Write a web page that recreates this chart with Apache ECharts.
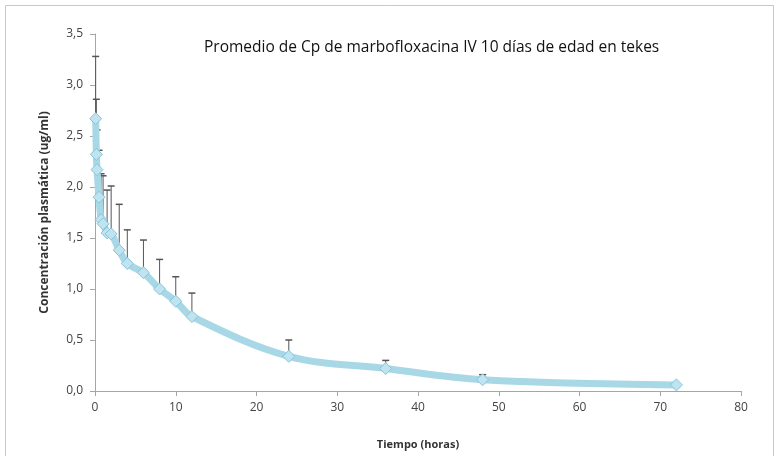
<!DOCTYPE html>
<html>
<head>
<meta charset="utf-8">
<script src="https://cdn.jsdelivr.net/npm/echarts@6/dist/echarts.min.js"></script>
<style>
    body { margin: 0; background: #fff; }
    #chart { width: 779px; height: 456px; }
</style>
</head>
<body>
<div id="chart"></div>
<script>
    // tiempos de muestreo (h), media y extremo superior de la barra de error
    const tiempo = [0.083, 0.167, 0.25, 0.5, 0.75, 1, 1.5, 2, 3, 4, 6, 8, 10, 12, 24, 36, 48, 72]
    const media = [2.67, 2.32, 2.17, 1.90, 1.68, 1.64, 1.55, 1.54, 1.38, 1.25, 1.16, 1.00, 0.88, 0.73, 0.34, 0.22, 0.11, 0.06]
    const superior = [3.28, 2.86, 2.56, 2.36, 2.13, 2.11, 1.97, 2.01, 1.83, 1.58, 1.48, 1.29, 1.12, 0.96, 0.50, 0.30, 0.16, null]
    const xTicks = [0, 10, 20, 30, 40, 50, 60, 70, 80]
    const yTicks = [0, 0.5, 1, 1.5, 2, 2.5, 3, 3.5]

    const chart = echarts.init(document.getElementById('chart'))
    const font = 'Open Sans'

    const lineData = tiempo.map((t, i) => [t, media[i]])
    const errData = tiempo.map((t, i) => [t, media[i], superior[i]]).filter(d => d[2] != null)

    const option = {
        backgroundColor: '#fff',
        graphic: [{
            type: 'rect',
            shape: { x: 5.5, y: 5.5, width: 768, height: 470 },
            style: { fill: 'none', stroke: '#c8c8c8', lineWidth: 1 },
            silent: true
        }],
        title: {
            text: 'Promedio de Cp de marbofloxacina IV 10 días de edad en tekes',
            left: 199,
            top: 35,
            textStyle: { fontFamily: font, fontSize: 15.5, fontWeight: 'normal', color: '#111' }
        },
        grid: { left: 95, right: 38, top: 34, bottom: 65 },
        xAxis: {
            type: 'value',
            min: xTicks[0],
            max: xTicks[xTicks.length - 1],
            interval: 10,
            name: 'Tiempo (horas)',
            nameLocation: 'middle',
            nameGap: 48,
            nameTextStyle: { fontFamily: font, fontSize: 11, fontWeight: 'bold', color: '#333' },
            axisLine: { lineStyle: { color: '#a6a6a6' } },
            axisTick: { lineStyle: { color: '#a6a6a6' }, length: 5 },
            axisLabel: { fontFamily: font, fontSize: 12, color: '#444', margin: 11 },
            splitLine: { show: false }
        },
        yAxis: {
            type: 'value',
            min: yTicks[0],
            max: yTicks[yTicks.length - 1],
            interval: 0.5,
            name: 'Concentración plasmática (ug/ml)',
            nameLocation: 'middle',
            nameRotate: 90,
            nameGap: 44,
            nameTextStyle: { fontFamily: font, fontSize: 12, fontWeight: 'bold', color: '#333' },
            axisLine: { show: true, lineStyle: { color: '#a6a6a6' } },
            axisTick: { show: true, lineStyle: { color: '#a6a6a6' }, length: 5 },
            axisLabel: {
                fontFamily: font, fontSize: 12, color: '#444', margin: 12,
                formatter: v => v.toFixed(1).replace('.', ',')
            },
            splitLine: { show: false }
        },
        series: [{
            type: 'custom',
            z: 1,
            data: errData,
            renderItem: function (params, api) {
                const p0 = api.coord([api.value(0), api.value(1)])
                const p1 = api.coord([api.value(0), api.value(2)])
                return {
                    type: 'group',
                    children: [{
                        type: 'line',
                        shape: { x1: p0[0], y1: p0[1], x2: p1[0], y2: p1[1] },
                        style: { stroke: '#555', lineWidth: 1 }
                    }, {
                        type: 'line',
                        shape: { x1: p1[0] - 3.5, y1: p1[1], x2: p1[0] + 3.5, y2: p1[1] },
                        style: { stroke: '#555', lineWidth: 1.5 }
                    }]
                }
            }
        }, {
            type: 'line',
            z: 3,
            data: lineData,
            smooth: 0.35,
            symbol: 'diamond',
            symbolSize: 12,
            lineStyle: { color: '#a8d8e6', width: 7 },
            itemStyle: { color: '#bfe4f0', borderColor: '#86c4da', borderWidth: 1 }
        }]
    }
    chart.setOption(option)
</script>
</body>
</html>
